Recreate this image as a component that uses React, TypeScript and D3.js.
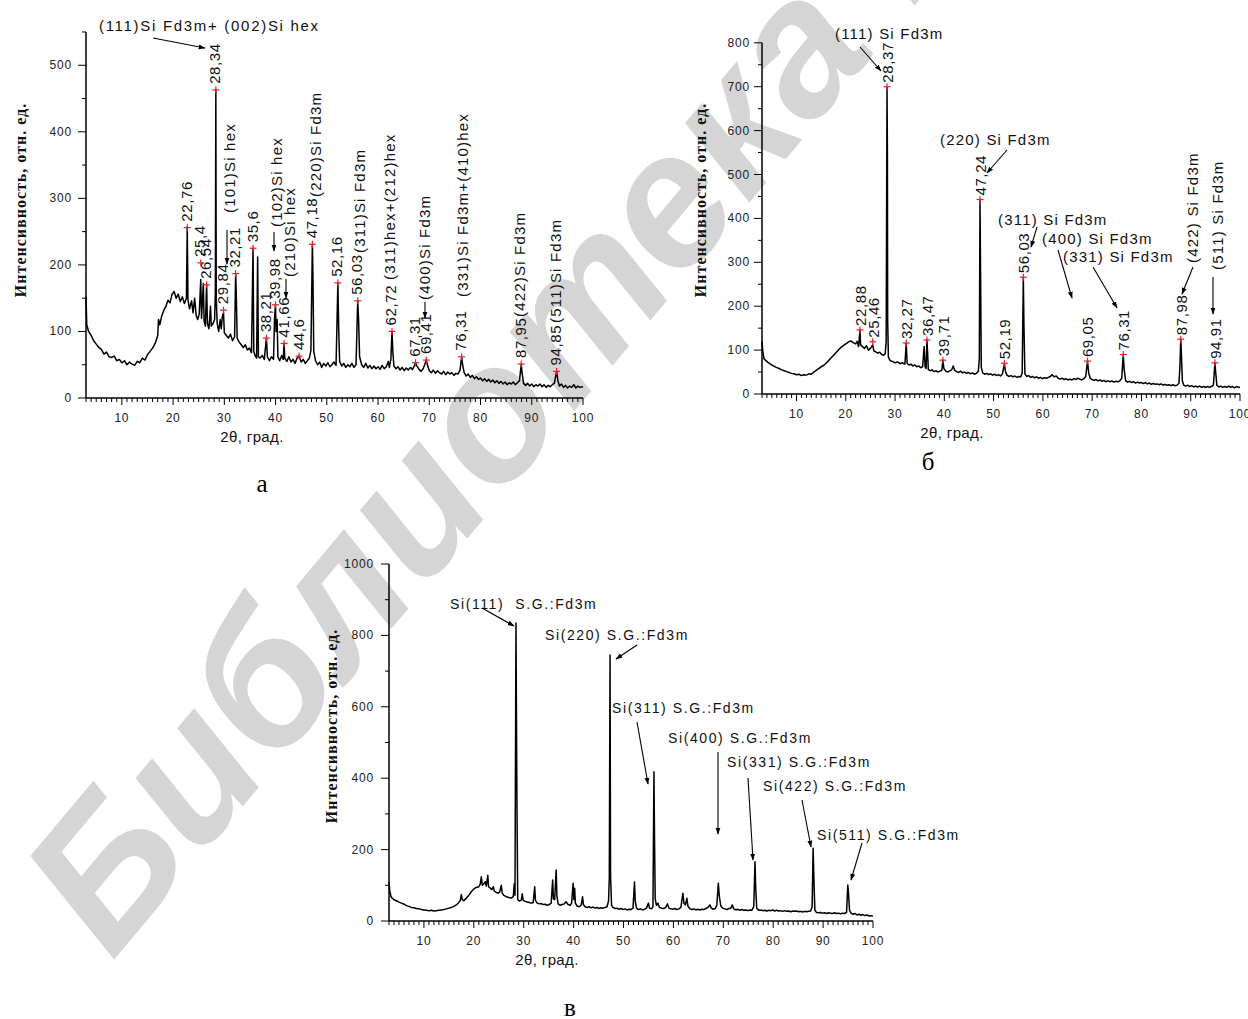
import React from 'react';
import * as d3 from 'd3';

type P = [number, number];

// ---------- Panel a data ----------
const seriesA: P[] = [[3,152],[3.15,110],[3.5,100],[4,94],[4.5,86],[5,81],[5.5,76],[6,73],[6.5,66],[7,69],[7.5,62],[8,61],[8.5,63],[9,56],[9.5,58],[10,53],[10.5,56],[11,50],[11.5,54],[12,51],[12.5,49],[13,55],[13.5,53],[14,60],[14.5,57],[15,65],[15.5,70],[16,75],[16.5,82],[17,94],[17.15,118],[17.4,110],[17.8,124],[18.2,132],[18.6,138],[19,147],[19.4,143],[19.8,156],[20.2,160],[20.6,150],[21,156],[21.4,145],[21.8,152],[22.2,142],[22.6,150],[22.76,257],[22.9,148],[23.2,134],[23.6,146],[23.9,128],[24.2,150],[24.5,124],[24.8,118],[25.1,126],[25.4,178],[25.55,120],[25.9,172],[26.05,116],[26.3,108],[26.54,170],[26.7,112],[27,104],[27.3,138],[27.45,108],[27.8,112],[28.1,118],[28.25,160],[28.34,463],[28.42,150],[28.6,112],[28.9,100],[29.2,118],[29.4,104],[29.6,122],[29.84,128],[30,98],[30.4,94],[30.8,90],[31.2,96],[31.6,86],[32,92],[32.21,187],[32.35,150],[32.5,90],[32.9,84],[33.3,80],[33.7,76],[34.1,80],[34.5,72],[34.9,75],[35.3,68],[35.6,225],[35.75,70],[36,64],[36.3,60],[36.5,212],[36.65,62],[37,60],[37.4,64],[37.8,58],[38.21,90],[38.4,62],[38.8,56],[39.2,62],[39.6,58],[39.8,120],[39.98,140],[40.1,100],[40.3,118],[40.45,62],[40.8,56],[41.2,64],[41.5,58],[41.66,82],[41.8,60],[42.2,55],[42.6,62],[43,54],[43.4,58],[43.8,52],[44.2,60],[44.6,63],[45,54],[45.4,58],[45.8,52],[46.2,56],[46.6,60],[46.9,72],[47.18,231],[47.3,180],[47.45,70],[47.8,56],[48.2,50],[48.6,54],[49,46],[49.4,52],[49.8,48],[50.2,53],[50.6,47],[51,50],[51.4,54],[51.8,49],[52.16,173],[52.3,110],[52.5,55],[52.9,48],[53.3,52],[53.7,46],[54.1,50],[54.5,47],[54.9,52],[55.3,46],[55.7,50],[56.03,146],[56.2,118],[56.4,62],[56.8,50],[57.2,46],[57.6,52],[58,45],[58.4,49],[58.8,44],[59.2,48],[59.6,44],[60,47],[60.4,43],[60.8,49],[61.2,44],[61.6,47],[62,55],[62.2,46],[62.5,58],[62.72,100],[62.9,68],[63.1,48],[63.5,44],[63.9,47],[64.3,42],[64.7,46],[65.1,41],[65.5,45],[65.9,42],[66.3,46],[66.7,43],[67,47],[67.31,53],[67.6,48],[68,43],[68.4,40],[68.8,44],[69.1,50],[69.41,57],[69.7,48],[70,41],[70.4,38],[70.8,42],[71.2,37],[71.6,41],[72,38],[72.4,36],[72.8,40],[73.2,35],[73.6,39],[74,36],[74.4,38],[74.8,34],[75.2,37],[75.6,36],[76,42],[76.31,62],[76.5,50],[76.8,38],[77.2,33],[77.6,36],[78,31],[78.4,34],[78.8,29],[79.2,32],[79.6,28],[80,30],[80.4,26],[80.8,29],[81.2,25],[81.6,28],[82,24],[82.4,27],[82.8,23],[83.2,26],[83.6,22],[84,25],[84.4,21],[84.8,24],[85.2,20],[85.6,23],[86,21],[86.4,24],[86.8,20],[87.2,23],[87.6,26],[87.95,51],[88.1,38],[88.4,22],[88.8,19],[89.2,22],[89.6,18],[90,21],[90.4,17],[90.8,20],[91.2,18],[91.6,21],[92,17],[92.4,20],[92.8,16],[93.2,19],[93.6,17],[94,20],[94.4,22],[94.85,40],[95.1,26],[95.4,18],[95.8,21],[96.2,16],[96.6,19],[97,15],[97.4,18],[97.8,16],[98.2,20],[98.6,15],[99,18],[99.4,16],[100,17]];
const peaksA = [22.76, 25.4, 26.54, 28.34, 29.84, 32.21, 35.6, 38.21, 39.98, 41.66, 44.6, 47.18, 52.16, 56.03, 62.72, 67.31, 69.41, 76.31, 87.95, 94.85];
const peakIntA = [256, 203, 170, 463, 132, 187, 225, 90, 140, 82, 63, 231, 173, 146, 100, 53, 57, 62, 51, 40];
const yTicksA = [0, 100, 200, 300, 400, 500];

// ---------- Panel б data ----------
const seriesB: P[] = [[3,120],[3.15,98],[3.4,80],[3.8,76],[4.2,72],[4.6,69],[5,66],[5.5,63],[6,60],[6.5,58],[7,55],[7.5,53],[8,51],[8.5,49],[9,47],[9.5,46],[10,44],[10.5,45],[11,42],[11.5,44],[12,43],[12.5,46],[13,45],[13.5,50],[14,54],[14.5,58],[15,62],[15.5,65],[16,70],[16.5,76],[17,82],[17.5,88],[18,94],[18.5,100],[19,106],[19.5,110],[20,114],[20.5,118],[21,121],[21.5,117],[22,114],[22.3,120],[22.6,108],[22.88,146],[23,112],[23.4,108],[23.8,104],[24.2,110],[24.6,100],[25,104],[25.46,112],[25.7,98],[26.1,96],[26.5,93],[26.9,95],[27.3,90],[27.7,88],[28,92],[28.2,120],[28.37,700],[28.45,550],[28.5,168],[28.65,84],[29,76],[29.5,74],[30,71],[30.5,73],[31,69],[31.5,71],[32,68],[32.27,116],[32.45,70],[32.8,66],[33.2,68],[33.6,64],[34,66],[34.4,62],[34.8,64],[35.2,60],[35.6,62],[35.9,108],[36.1,62],[36.3,58],[36.47,123],[36.6,96],[36.75,56],[37.1,53],[37.5,55],[37.9,51],[38.3,53],[38.7,50],[39.1,52],[39.5,54],[39.71,77],[39.9,58],[40.3,52],[40.7,50],[41.1,53],[41.5,55],[41.8,64],[42.1,54],[42.5,51],[42.9,49],[43.3,52],[43.7,48],[44.1,50],[44.5,47],[44.9,49],[45.3,46],[45.7,48],[46.1,45],[46.5,47],[46.9,52],[47.1,80],[47.24,443],[47.35,280],[47.5,60],[47.8,48],[48.2,45],[48.6,47],[49,44],[49.4,46],[49.8,43],[50.2,45],[50.6,42],[51,44],[51.4,41],[51.8,46],[52.19,70],[52.4,52],[52.7,43],[53.1,40],[53.5,42],[53.9,39],[54.3,41],[54.7,38],[55.1,40],[55.5,39],[55.8,48],[56.03,266],[56.15,160],[56.35,46],[56.7,40],[57.1,42],[57.5,38],[57.9,40],[58.3,37],[58.7,39],[59.1,36],[59.5,38],[59.9,35],[60.3,37],[60.7,36],[61.1,38],[61.5,40],[61.9,44],[62.3,39],[62.7,41],[63.1,36],[63.5,34],[63.9,36],[64.3,33],[64.7,35],[65.1,32],[65.5,34],[65.9,32],[66.3,35],[66.7,33],[67.1,36],[67.5,34],[67.9,32],[68.3,35],[68.7,40],[69.05,75],[69.3,48],[69.6,36],[70,33],[70.4,31],[70.8,33],[71.2,30],[71.6,32],[72,29],[72.4,31],[72.8,28],[73.2,30],[73.6,28],[74,30],[74.4,27],[74.8,29],[75.2,28],[75.6,30],[76,36],[76.31,90],[76.5,55],[76.8,30],[77.2,27],[77.6,29],[78,26],[78.4,28],[78.8,25],[79.2,27],[79.6,25],[80,26],[80.4,24],[80.8,26],[81.2,23],[81.6,25],[82,22],[82.4,24],[82.8,22],[83.2,23],[83.6,21],[84,23],[84.4,20],[84.8,22],[85.2,20],[85.6,21],[86,19],[86.4,21],[86.8,19],[87.2,20],[87.6,24],[87.8,60],[87.98,125],[88.1,95],[88.3,30],[88.6,20],[89,18],[89.4,20],[89.8,17],[90.2,19],[90.6,16],[91,18],[91.4,16],[91.8,18],[92.2,15],[92.6,17],[93,15],[93.4,17],[93.8,15],[94.2,17],[94.6,20],[94.91,71],[95.1,45],[95.3,20],[95.7,16],[96.1,18],[96.5,15],[96.9,17],[97.3,15],[97.7,18],[98.1,15],[98.5,17],[98.9,14],[99.3,17],[99.7,15],[100,16]];
const peaksB = [22.88, 25.46, 28.37, 32.27, 36.47, 39.71, 47.24, 52.19, 56.03, 69.05, 76.31, 87.98, 94.91];
const peakIntB = [146, 119, 700, 116, 123, 77, 443, 70, 266, 75, 90, 125, 71];
const yTicksB = [0, 100, 200, 300, 400, 500, 600, 700, 800];

// ---------- Panel в data ----------
const seriesC: P[] = [[3,110],[3.15,85],[3.4,68],[3.8,62],[4.2,58],[4.6,56],[5,53],[5.5,50],[6,47],[6.5,43],[7,41],[7.5,38],[8,37],[8.5,35],[9,34],[9.5,32],[10,31],[10.5,30],[11,29],[11.5,30],[12,28],[12.5,29],[13,30],[13.5,31],[14,32],[14.5,34],[15,36],[15.5,38],[16,41],[16.5,45],[17,52],[17.3,58],[17.5,74],[17.7,60],[18,57],[18.5,64],[19,72],[19.5,82],[20,90],[20.5,94],[21,96],[21.3,104],[21.5,124],[21.7,100],[22,104],[22.3,110],[22.5,98],[22.8,128],[22.95,96],[23.3,92],[23.6,88],[23.9,96],[24.1,84],[24.5,80],[24.9,78],[25.2,82],[25.5,100],[25.7,78],[26,72],[26.5,68],[27,66],[27.5,64],[27.9,68],[28.1,104],[28.25,72],[28.45,835],[28.55,555],[28.65,320],[28.8,60],[29.1,56],[29.5,58],[29.7,76],[29.9,58],[30.3,55],[30.7,53],[31.1,52],[31.5,50],[31.9,52],[32.2,96],[32.35,58],[32.7,50],[33.1,48],[33.5,49],[33.9,46],[34.3,47],[34.7,44],[35.1,46],[35.5,50],[35.8,115],[35.95,62],[36.2,60],[36.5,143],[36.65,70],[36.9,48],[37.3,44],[37.7,46],[38.1,48],[38.5,54],[38.9,46],[39.3,44],[39.6,50],[39.9,106],[40.05,60],[40.2,92],[40.35,50],[40.7,42],[41.1,40],[41.5,44],[41.8,68],[41.95,46],[42.3,40],[42.7,38],[43.1,40],[43.5,37],[43.9,39],[44.3,36],[44.7,38],[45.1,35],[45.5,37],[45.9,36],[46.3,38],[46.7,40],[47,56],[47.15,120],[47.3,745],[47.4,130],[47.6,44],[47.9,38],[48.3,35],[48.7,36],[49.1,33],[49.5,35],[49.9,32],[50.3,34],[50.7,31],[51.1,33],[51.5,32],[51.9,36],[52.2,109],[52.35,56],[52.6,36],[53,32],[53.4,34],[53.8,31],[54.2,33],[54.6,36],[55,50],[55.2,36],[55.6,34],[55.9,40],[56.1,418],[56.2,250],[56.35,62],[56.6,44],[56.9,50],[57.2,38],[57.6,36],[58,35],[58.4,37],[58.8,48],[59.1,36],[59.5,34],[59.9,33],[60.3,35],[60.7,32],[61.1,34],[61.5,38],[61.9,78],[62.1,50],[62.4,45],[62.7,64],[62.9,42],[63.3,34],[63.7,32],[64.1,34],[64.5,31],[64.9,33],[65.3,31],[65.7,33],[66.1,32],[66.5,35],[66.9,38],[67.3,45],[67.6,36],[68,33],[68.4,35],[68.7,45],[69,106],[69.2,70],[69.5,42],[69.9,36],[70.3,34],[70.7,32],[71.1,35],[71.5,36],[71.8,45],[72.1,34],[72.5,31],[72.9,33],[73.3,30],[73.7,32],[74.1,30],[74.5,31],[74.9,29],[75.3,31],[75.7,30],[76.1,40],[76.35,166],[76.5,90],[76.7,36],[77.1,30],[77.5,31],[77.9,29],[78.3,30],[78.7,28],[79.1,30],[79.5,29],[79.9,31],[80.3,28],[80.7,30],[81.1,28],[81.5,29],[81.9,27],[82.3,29],[82.7,27],[83.1,28],[83.5,26],[83.9,28],[84.3,27],[84.7,28],[85.1,26],[85.5,27],[85.9,25],[86.3,27],[86.7,26],[87.1,27],[87.5,28],[87.8,40],[88,204],[88.15,120],[88.35,30],[88.7,24],[89.1,23],[89.5,24],[89.9,22],[90.3,23],[90.7,21],[91.1,23],[91.5,22],[91.9,21],[92.3,23],[92.7,21],[93.1,22],[93.5,20],[93.9,22],[94.3,21],[94.7,24],[94.95,101],[95.1,75],[95.3,30],[95.6,22],[96,19],[96.4,21],[96.8,17],[97.2,19],[97.6,16],[98,18],[98.4,15],[98.8,17],[99.2,14],[99.6,15],[100,13]];
const yTicksC = [0, 200, 400, 600, 800, 1000];

const xTicks = [10, 20, 30, 40, 50, 60, 70, 80, 90, 100];
const yTitle = 'Интенсивность, отн. ед.';
const xTitle = '2θ, град.';
const watermark = 'Библиотека БГУИР';

// annotation texts
const hklA = ['(101)Si hex', '(102)Si hex', '(210)Si hex', '(220)Si Fd3m', '(311)Si Fd3m', '(311)hex+(212)hex', '(400)Si Fd3m', '(331)Si Fd3m+(410)hex', '(422)Si Fd3m', '(511)Si Fd3m'];
const topA = '(111)Si Fd3m+ (002)Si hex';
const hklBh = ['(111) Si Fd3m', '(220) Si Fd3m', '(311) Si Fd3m', '(400) Si Fd3m', '(331) Si Fd3m'];
const hklBv = ['(422) Si Fd3m', '(511) Si Fd3m'];
const hklC = ['Si(111)  S.G.:Fd3m', 'Si(220) S.G.:Fd3m', 'Si(311) S.G.:Fd3m', 'Si(400) S.G.:Fd3m', 'Si(331) S.G.:Fd3m', 'Si(422) S.G.:Fd3m', 'Si(511) S.G.:Fd3m'];

// ---------- layout ----------
const SANS = '"Liberation Sans", Arial, sans-serif';
const SERIF = '"Liberation Serif", "Times New Roman", serif';

type Cfg = {
  left: number; right: number; bottom: number; yMax: number; pxPerUnit: number;
  yTicks: number[]; minorStep: number; tickLabelRight: number;
  titleX: number; titleY: number; xTitleX: number; letter: string; letterX: number; letterY: number;
};

const cfgA: Cfg = { left: 86, right: 583, bottom: 398, yMax: 550, pxPerUnit: 0.6655, yTicks: yTicksA, minorStep: 50, tickLabelRight: 72, titleX: 26, titleY: 200, xTitleX: 252, letter: 'а', letterX: 262, letterY: 492 };
const cfgB: Cfg = { left: 762, right: 1240, bottom: 394, yMax: 800, pxPerUnit: 0.439, yTicks: yTicksB, minorStep: 50, tickLabelRight: 750, titleX: 706, titleY: 200, xTitleX: 952, letter: 'б', letterX: 928, letterY: 470 };
const cfgC: Cfg = { left: 389, right: 873, bottom: 921, yMax: 1000, pxPerUnit: 0.357, yTicks: yTicksC, minorStep: 100, tickLabelRight: 374, titleX: 337, titleY: 726, xTitleX: 547, letter: 'в', letterX: 570, letterY: 1016 };

function scales(c: Cfg) {
  const x = d3.scaleLinear().domain([3, 100]).range([c.left, c.right]);
  const y = d3.scaleLinear().domain([0, c.yMax]).range([c.bottom, c.bottom - c.yMax * c.pxPerUnit]);
  return { x, y };
}

const fmt = (v: number) => String(v).replace('.', ',');

function Axes({ c }: { c: Cfg }) {
  const { x, y } = scales(c);
  const minorX = d3.range(3, 101, 1);
  const minorY = d3.range(0, c.yMax + 0.1, c.minorStep);
  return (
    <g>
      <line x1={c.left} x2={c.right} y1={c.bottom} y2={c.bottom} stroke="#000" strokeWidth={1.5} />
      <line x1={c.left} x2={c.left} y1={c.bottom} y2={y(c.yMax)} stroke="#000" strokeWidth={1.5} />
      {minorX.map((v) => (
        <line key={'mx' + v} x1={x(v)} x2={x(v)} y1={c.bottom} y2={c.bottom + (v % 10 === 0 ? 7 : 4)} stroke="#000" strokeWidth={1} />
      ))}
      {minorY.map((v) => (
        <line key={'my' + v} x1={c.left} x2={c.left - (c.yTicks.includes(v) ? 8 : 4)} y1={y(v)} y2={y(v)} stroke="#000" strokeWidth={1} />
      ))}
      {xTicks.map((v) => (
        <text key={'tx' + v} x={x(v)} y={c.bottom + 24} textAnchor="middle" fontFamily={SANS} fontSize={12} letterSpacing={0.8} fill="#222">{v}</text>
      ))}
      {c.yTicks.map((v) => (
        <text key={'ty' + v} x={c.tickLabelRight} y={y(v) + 4} textAnchor="end" fontFamily={SANS} fontSize={12} letterSpacing={0.8} fill="#222">{v}</text>
      ))}
      <text x={c.xTitleX} y={c.bottom + 44} textAnchor="middle" fontFamily={SANS} fontSize={15} letterSpacing={0.4} fill="#111">{xTitle}</text>
      <text transform={`translate(${c.titleX},${c.titleY}) rotate(-90)`} textAnchor="middle" fontFamily={SERIF} fontWeight="bold" fontSize={16} letterSpacing={1} fill="#111">{yTitle}</text>
      <text x={c.letterX} y={c.letterY} textAnchor="middle" fontFamily={SERIF} fontSize={25} fill="#000">{c.letter}</text>
    </g>
  );
}

function Trace({ c, data }: { c: Cfg; data: P[] }) {
  const { x, y } = scales(c);
  const line = d3.line<P>().x((d) => x(d[0])).y((d) => y(d[1]));
  return <path d={line(data) || ''} fill="none" stroke="#000" strokeWidth={1.5} strokeLinejoin="round" />;
}

function Crosses({ c, peaks, ints, dx, gap }: { c: Cfg; peaks: number[]; ints: number[]; dx: number; gap: number }) {
  const { x, y } = scales(c);
  return (
    <g>
      {peaks.map((p, i) => {
        const cx = x(p), cy = y(ints[i]);
        return (
          <g key={'c' + p}>
            <line x1={cx - 3.5} x2={cx + 3.5} y1={cy} y2={cy} stroke="#e8202a" strokeWidth={1.2} />
            <line x1={cx} x2={cx} y1={cy - 3.5} y2={cy + 3.5} stroke="#e8202a" strokeWidth={1.2} />
            <text transform={`translate(${cx + dx},${cy - gap}) rotate(-90)`} fontFamily={SANS} fontSize={15} letterSpacing={0.6} fill="#111">{fmt(p)}</text>
          </g>
        );
      })}
    </g>
  );
}

const VText = ({ x, y, t }: { x: number; y: number; t: string }) => (
  <text transform={`translate(${x},${y}) rotate(-90)`} fontFamily={SANS} fontSize={15} letterSpacing={1.2} fill="#111" style={{ whiteSpace: 'pre' }}>{t}</text>
);
const HText = ({ x, y, t, s = 15, ls = 1.2 }: { x: number; y: number; t: string; s?: number; ls?: number }) => (
  <text x={x} y={y} fontFamily={SANS} fontSize={s} letterSpacing={ls} fill="#111" style={{ whiteSpace: 'pre' }}>{t}</text>
);
const Arrow = ({ a }: { a: number[] }) => (
  <line x1={a[0]} y1={a[1]} x2={a[2]} y2={a[3]} stroke="#000" strokeWidth={1.1} markerEnd="url(#ah)" />
);

// label anchor layout (pixels)
const hklAPos = [[235, 213], [282, 227], [295, 277], [321, 197], [365, 253], [395, 280], [430, 300], [468, 297], [525, 317], [561, 323]];
const arrowsA = [[153, 38, 205, 48], [227, 230, 227, 264], [274, 232, 274, 251], [286, 279, 286, 298], [425, 302, 425, 318]];
const hklBhPos = [[835, 39], [940, 145], [998, 225], [1042, 244], [1063, 262]];
const hklBvPos = [[1198, 263], [1223, 270]];
const arrowsB = [[860, 47, 881, 71], [1007, 150, 987, 173], [1037, 227, 1031, 247], [1058, 250, 1072, 298], [1093, 267, 1117, 308], [1193, 267, 1182, 294], [1213, 277, 1213, 314]];
const hklCPos = [[450, 609], [545, 640], [612, 713], [668, 743], [727, 767], [763, 791], [817, 840]];
const arrowsC = [[482, 608, 514, 626], [637, 645, 616, 659], [637, 722, 648, 784], [718, 752, 718, 834], [748, 778, 753, 860], [802, 800, 811, 847], [862, 843, 851, 880]];

export default function App() {
  return (
    <svg width={1248} height={1019} style={{ position: 'absolute', left: 0, top: 0, background: '#fff' }}>
      <defs>
        <marker id="ah" viewBox="0 0 10 10" refX="9" refY="5" markerWidth="7" markerHeight="7" orient="auto" markerUnits="userSpaceOnUse">
          <path d="M0,1.5 L10,5 L0,8.5 z" fill="#000" />
        </marker>
      </defs>
      <rect width={1248} height={1019} fill="#fff" />
      <text transform="translate(112,962) rotate(-50)" fontFamily={SANS} fontWeight="bold" fontStyle="italic" fontSize={190} fill="#d5d5d5">{watermark}</text>

      {/* panel a */}
      <Axes c={cfgA} />
      <Trace c={cfgA} data={seriesA} />
      <Crosses c={cfgA} peaks={peaksA} ints={peakIntA} dx={4.5} gap={6} />
      {hklA.map((t, i) => <VText key={t + i} x={hklAPos[i][0]} y={hklAPos[i][1]} t={t} />)}
      <HText x={99} y={31} t={topA} ls={1.7} />
      {arrowsA.map((a, i) => <Arrow key={'aa' + i} a={a} />)}

      {/* panel б */}
      <Axes c={cfgB} />
      <Trace c={cfgB} data={seriesB} />
      <Crosses c={cfgB} peaks={peaksB} ints={peakIntB} dx={6} gap={4} />
      {hklBh.map((t, i) => <HText key={t} x={hklBhPos[i][0]} y={hklBhPos[i][1]} t={t} />)}
      {hklBv.map((t, i) => <VText key={t} x={hklBvPos[i][0]} y={hklBvPos[i][1]} t={t} />)}
      {arrowsB.map((a, i) => <Arrow key={'ab' + i} a={a} />)}

      {/* panel в */}
      <Axes c={cfgC} />
      <Trace c={cfgC} data={seriesC} />
      {hklC.map((t, i) => <HText key={t} x={hklCPos[i][0]} y={hklCPos[i][1]} t={t} s={14} ls={1.6} />)}
      {arrowsC.map((a, i) => <Arrow key={'ac' + i} a={a} />)}
    </svg>
  );
}
